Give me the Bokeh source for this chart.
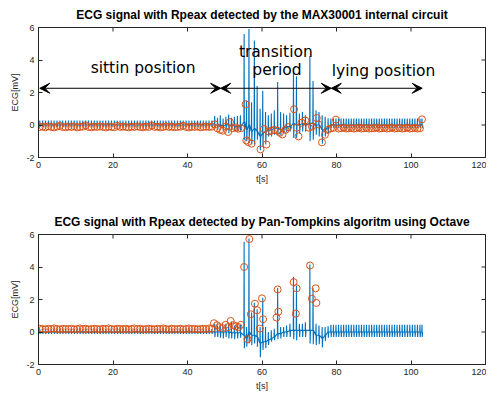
import math
from bokeh.plotting import figure
from bokeh.models import Range1d, FixedTicker, Label, Arrow, VeeHead
from bokeh.layouts import column
from bokeh.embed import file_html
from bokeh.resources import INLINE

# ---------------- texts / ticks ----------------
title_top = "ECG signal with Rpeax detected by the MAX30001 internal circuit"
title_bot = "ECG signal with Rpeax detected by Pan-Tompkins algoritm using Octave"
x_label = "t[s]"
y_label = "ECG[mV]"
x_ticks = [0, 20, 40, 60, 80, 100, 120]
x_tick_labels = ["0", "20", "40", "60", "80", "100", "120"]
y_ticks = [-2, 0, 2, 4, 6]
y_tick_labels = ["-2", "0", "2", "4", "6"]
phase_names = ["sittin position", "transition", "period", "lying position"]
phase_bounds = [0.35, 48.9, 78.6, 103.0]

# ---------------- beat times (s) ----------------
sit_t = [0.35, 1.12, 1.88, 2.66, 3.43, 4.19, 4.97, 5.74, 6.50, 7.28,
         8.05, 8.81, 9.59, 10.36, 11.12, 11.90, 12.67, 13.43, 14.21, 14.98,
         15.74, 16.52, 17.29, 18.05, 18.83, 19.60, 20.36, 21.14, 21.91, 22.67,
         23.45, 24.22, 24.98, 25.76, 26.53, 27.29, 28.07, 28.84, 29.60, 30.38,
         31.15, 31.91, 32.69, 33.46, 34.22, 35.00, 35.77, 36.53, 37.31, 38.08,
         38.84, 39.62, 40.39, 41.15, 41.93, 42.70, 43.46, 44.24, 45.01, 45.77,
         46.55]
trans_t = [47.3, 48.05, 48.8, 49.55, 50.3, 51.05, 51.8, 52.6, 53.4, 54.2,
           55.2, 55.85, 56.5, 57.2, 57.95, 58.7, 59.5, 60.2, 60.95, 61.7,
           62.5, 63.3, 64.2, 65.0, 65.8, 66.6, 67.5, 68.45, 69.25, 70.05,
           70.85, 71.65, 72.85, 73.7, 74.5, 75.3, 76.15, 76.95, 77.75]
lie_t = [78.5, 79.18, 79.86, 80.55, 81.23, 81.91, 82.6, 83.28, 83.96, 84.65,
         85.33, 86.01, 86.7, 87.38, 88.06, 88.75, 89.43, 90.11, 90.8, 91.48,
         92.16, 92.85, 93.53, 94.21, 94.9, 95.58, 96.26, 96.95, 97.63, 98.31,
         99.0, 99.68, 100.36, 101.05, 101.73, 102.41, 102.95]

# ---------------- MAX30001 signal (top) ----------------
top_sit_peak, top_sit_trough, top_sit_base = 0.28, -0.12, 0.0
top_lie_peak, top_lie_trough, top_lie_base = 0.40, -0.20, 0.0
top_trans_peak = [0.55, 0.45, 0.6, 0.4, 0.5, 0.65, 0.45, 0.5, 0.55, 0.6,
                  5.6, 1.5, 5.9, 1.4, 5.2, 2.4, 1.0, 2.1, 0.8, 0.6,
                  0.7, 0.9, 2.65, 0.8, 0.7, 0.6, 0.75, 3.45, 3.0, 0.7,
                  0.8, 0.6, 4.25, 2.7, 0.9, 0.8, 0.6, 0.5, 0.4]
top_trans_trough = [-0.2, -0.3, -0.25, -0.35, -0.3, -0.5, -0.3, -0.35, -0.4, -0.35,
                    -0.9, -1.0, -1.1, -1.2, -1.2, -0.9, -1.55, -1.3, -1.2, -0.7,
                    -0.7, -0.6, -0.6, -0.65, -0.5, -0.45, -0.4, -0.8, -0.8, -0.5,
                    -0.4, -0.4, -1.0, -0.9, -0.6, -0.7, -1.15, -0.7, -0.5]
top_trans_base = [0.0, 0.0, 0.0, -0.05, 0.0, 0.0, 0.0, -0.05, -0.1, -0.1,
                  0.2, -0.3, 0.0, -0.4, -0.2, -0.4, -0.7, -0.5, -0.4, -0.3,
                  -0.3, -0.2, -0.2, -0.3, -0.2, -0.1, -0.1, 0.1, 0.0, 0.0,
                  0.1, 0.0, 0.1, 0.1, 0.0, 0.0, -0.3, -0.3, -0.1]
# R-peaks reported by the MAX30001
top_sit_ry = [-0.12, -0.1, -0.14, -0.08, -0.12, -0.15, -0.1, -0.05, -0.12, -0.14,
              -0.1, -0.12, -0.08, -0.15, -0.12, -0.1, -0.02, -0.12, -0.14, -0.1,
              -0.12, -0.08, -0.12, -0.15, -0.1, -0.12, -0.14, -0.05, -0.12, -0.1,
              -0.12, -0.15, -0.1, -0.12, -0.08, -0.12, -0.14, -0.1, -0.12, -0.02,
              -0.12, -0.1, -0.15, -0.12, -0.08, -0.12, -0.1, -0.14, -0.12, -0.1,
              -0.05, -0.12, -0.15, -0.1, -0.12, -0.08, -0.14, -0.12, -0.1, -0.12,
              -0.1]
top_trans_rx = [47.3, 48.0, 48.8, 49.5, 50.3, 50.9, 51.4, 52.2, 53.0, 53.6,
                54.4, 55.6, 55.8, 56.3, 57.2, 59.6, 60.5, 61.2, 61.8, 62.5,
                63.3, 64.1, 64.8, 65.5, 66.3, 67.0, 68.6, 69.3, 69.8, 70.6,
                71.6, 72.6, 73.4, 74.7, 75.1, 76.1, 76.9, 77.7]
top_trans_ry = [0.04, -0.2, -0.3, -0.35, -0.1, -0.43, 0.18, -0.2, -0.15, -0.23,
                -0.2, 1.27, -0.95, -1.05, -1.15, -1.5, -0.25, -1.2, -0.4, -0.35,
                -0.3, -0.35, -0.48, -0.58, -0.3, -0.13, 0.97, -0.17, -0.7, 0.14,
                0.28, -0.17, -0.1, 0.43, 0.04, -1.07, -0.6, -0.3]
top_lie_ry = [-0.2, -0.18, 0.33, -0.22, -0.2, -0.15, -0.22, -0.2, -0.18, -0.22,
              -0.2, -0.15, -0.22, -0.2, -0.18, -0.22, -0.2, -0.2, -0.15, -0.22,
              -0.2, -0.18, -0.22, -0.2, -0.15, -0.22, -0.2, -0.18, -0.22, -0.2,
              -0.15, -0.22, -0.2, -0.18, -0.22, -0.2, 0.35]

# ---------------- Pan-Tompkins signal (bottom) ----------------
bot_sit_peak, bot_sit_trough, bot_sit_base = 0.18, -0.12, 0.0
bot_lie_peak, bot_lie_trough, bot_lie_base = 0.45, -0.30, 0.0
bot_trans_peak = [0.5, 0.4, 0.45, 0.35, 0.5, 0.55, 0.65, 0.4, 0.45, 0.45,
                  5.55, 0.3, 5.75, 1.2, 1.8, 1.4, 0.3, 2.1, 0.3, 0.0,
                  0.1, 0.2, 2.7, 0.3, 0.3, 0.4, 0.5, 3.4, 2.85, 0.5,
                  0.5, 0.6, 4.15, 2.7, 0.5, 0.4, 0.3, 0.3, 0.35]
bot_trans_trough = [-0.3, -0.3, -0.35, -0.4, -0.3, -0.4, -0.4, -0.45, -0.4, -0.35,
                    -1.0, -0.9, -0.7, -0.8, -0.7, -0.9, -1.55, -1.1, -1.0, -0.8,
                    -0.6, -0.5, -0.45, -0.4, -0.3, -0.3, -0.3, -0.45, -0.5, -0.3,
                    -0.3, -0.3, -0.7, -0.75, -0.8, -0.75, -0.95, -0.55, -0.35]
bot_trans_base = [0.0, 0.0, 0.0, 0.0, 0.0, 0.0, -0.05, -0.05, -0.05, -0.05,
                  -0.2, -0.4, 0.0, -0.2, -0.2, -0.3, -0.7, -0.6, -0.6, -0.5,
                  -0.4, -0.3, -0.1, -0.1, 0.0, 0.0, 0.1, 0.1, 0.1, 0.1,
                  0.1, 0.1, 0.1, 0.1, -0.2, -0.2, -0.4, -0.2, 0.0]
bot_sit_ry = [0.2, 0.18, 0.16, 0.2, 0.18, 0.22, 0.18, 0.16, 0.2, 0.18,
              0.18, 0.2, 0.16, 0.18, 0.22, 0.18, 0.2, 0.16, 0.18, 0.2,
              0.18, 0.16, 0.2, 0.18, 0.22, 0.18, 0.16, 0.2, 0.18, 0.18,
              0.2, 0.16, 0.18, 0.22, 0.18, 0.2, 0.16, 0.18, 0.2, 0.18,
              0.16, 0.2, 0.18, 0.22, 0.18, 0.16, 0.2, 0.18, 0.18, 0.2,
              0.16, 0.18, 0.22, 0.18, 0.2, 0.16, 0.18, 0.2, 0.18, 0.22,
              0.2]
bot_trans_rx = [47.1, 47.9, 48.6, 49.4, 50.2, 50.9, 51.6, 52.3, 53.0, 53.7,
                54.3, 55.2, 56.1, 56.6, 57.0, 58.1, 58.7, 59.4, 60.0, 60.3,
                63.9, 64.2, 64.4, 68.5, 69.1, 69.3, 72.9, 73.4, 74.4, 74.6]
bot_trans_ry = [0.54, 0.42, 0.3, 0.24, 0.44, 0.3, 0.68, 0.42, 0.35, 0.3,
                0.44, 4.0, -0.44, 5.72, 1.09, 1.74, 1.34, 0.21, 2.07, 0.79,
                0.89, 2.62, 1.25, 3.07, 1.13, 2.69, 4.09, 2.05, 2.69, 1.79]

BLUE = "#0072BD"
ORANGE = "#D95319"
AX = "#262626"


def ecg_line(peaks, troughs, bases):
    ts = sit_t + trans_t + lie_t
    xs, ys = [0.0], [bases[0]]
    for t, pk, tr, b in zip(ts, peaks, troughs, bases):
        xs += [t - 0.06, t, t + 0.06, t + 0.16]
        ys += [b, pk, tr, b]
    return xs, ys


def style(p):
    p.title.text_font = "Liberation Sans"
    p.title.text_font_size = "12px"
    p.title.text_font_style = "bold"
    p.title.text_color = "black"
    p.title.align = "center"
    p.title.standoff = 11
    p.outline_line_color = AX
    p.outline_line_alpha = 1.0
    p.outline_line_width = 1
    p.xgrid.visible = False
    p.ygrid.visible = False
    for ax, ticks, labels, lab in ((p.xaxis[0], x_ticks, x_tick_labels, x_label),
                                   (p.yaxis[0], y_ticks, y_tick_labels, y_label)):
        ax.ticker = FixedTicker(ticks=ticks)
        ax.major_label_overrides = {t: l for t, l in zip(ticks, labels)}
        ax.major_tick_in = 4
        ax.major_tick_out = 0
        ax.minor_tick_line_color = None
        ax.axis_line_color = AX
        ax.major_tick_line_color = AX
        ax.major_label_text_font = "Liberation Sans"
        ax.major_label_text_font_size = "9px"
        ax.major_label_text_color = AX
        ax.major_label_standoff = 4
        ax.axis_label = lab
        ax.axis_label_text_font = "Liberation Sans"
        ax.axis_label_text_font_size = "9px"
        ax.axis_label_text_font_style = "normal"
        ax.axis_label_text_color = AX
        ax.axis_label_standoff = 3
    # inward tick marks on the top and right edges of the box (clipped to the frame)
    p.scatter(x_ticks, [y_ticks[-1]] * len(x_ticks), marker="dash", angle=math.pi / 2,
              size=8, line_color=AX, line_width=1)
    p.scatter([x_ticks[-1]] * len(y_ticks), y_ticks, marker="dash",
              size=8, line_color=AX, line_width=1)


def make_fig(title, top_border):
    p = figure(frame_width=447, frame_height=130, x_range=Range1d(0, 120), y_range=Range1d(-2, 6),
               output_backend="svg", toolbar_location=None, title=title,
               min_border_left=38, min_border_right=1, min_border_top=top_border,
               min_border_bottom=28, background_fill_color="white")
    style(p)
    return p


# ---------- top figure ----------
p1 = make_fig(title_top, 27)
n_s, n_l = len(sit_t), len(lie_t)
x1, y1 = ecg_line([top_sit_peak] * n_s + top_trans_peak + [top_lie_peak] * n_l,
                  [top_sit_trough] * n_s + top_trans_trough + [top_lie_trough] * n_l,
                  [top_sit_base] * n_s + top_trans_base + [top_lie_base] * n_l)
p1.line(x1, y1, line_color=BLUE, line_width=1.1)
p1.scatter(sit_t + top_trans_rx + lie_t, top_sit_ry + top_trans_ry + top_lie_ry,
           marker="circle", size=7, fill_color=None, line_color=ORANGE, line_width=1)

arrow_y = 2.26
for a, b in zip(phase_bounds[:-1], phase_bounds[1:]):
    p1.add_layout(Arrow(x_start=a, y_start=arrow_y, x_end=b, y_end=arrow_y,
                        line_color="black", line_width=1,
                        start=VeeHead(size=10, fill_color="black", line_color="black"),
                        end=VeeHead(size=10, fill_color="black", line_color="black")))

lab_kw = dict(text_font="DejaVu Sans", text_font_size="15.5px", text_color="black",
              text_baseline="alphabetic")
p1.add_layout(Label(x=14.0, y=3.52, text=phase_names[0], **lab_kw))
p1.add_layout(Label(x=53.8, y=4.48, text=phase_names[1], **lab_kw))
p1.add_layout(Label(x=57.4, y=3.37, text=phase_names[2], **lab_kw))
p1.add_layout(Label(x=78.7, y=3.30, text=phase_names[3], **lab_kw))

# ---------- bottom figure ----------
p2 = make_fig(title_bot, 48)
x2, y2 = ecg_line([bot_sit_peak] * n_s + bot_trans_peak + [bot_lie_peak] * n_l,
                  [bot_sit_trough] * n_s + bot_trans_trough + [bot_lie_trough] * n_l,
                  [bot_sit_base] * n_s + bot_trans_base + [bot_lie_base] * n_l)
p2.line(x2, y2, line_color=BLUE, line_width=1.1)
p2.scatter(sit_t + bot_trans_rx, bot_sit_ry + bot_trans_ry,
           marker="circle", size=7, fill_color=None, line_color=ORANGE, line_width=1)

layout = column(p1, p2, spacing=0)
open("out.html", "w").write(file_html(layout, INLINE))
